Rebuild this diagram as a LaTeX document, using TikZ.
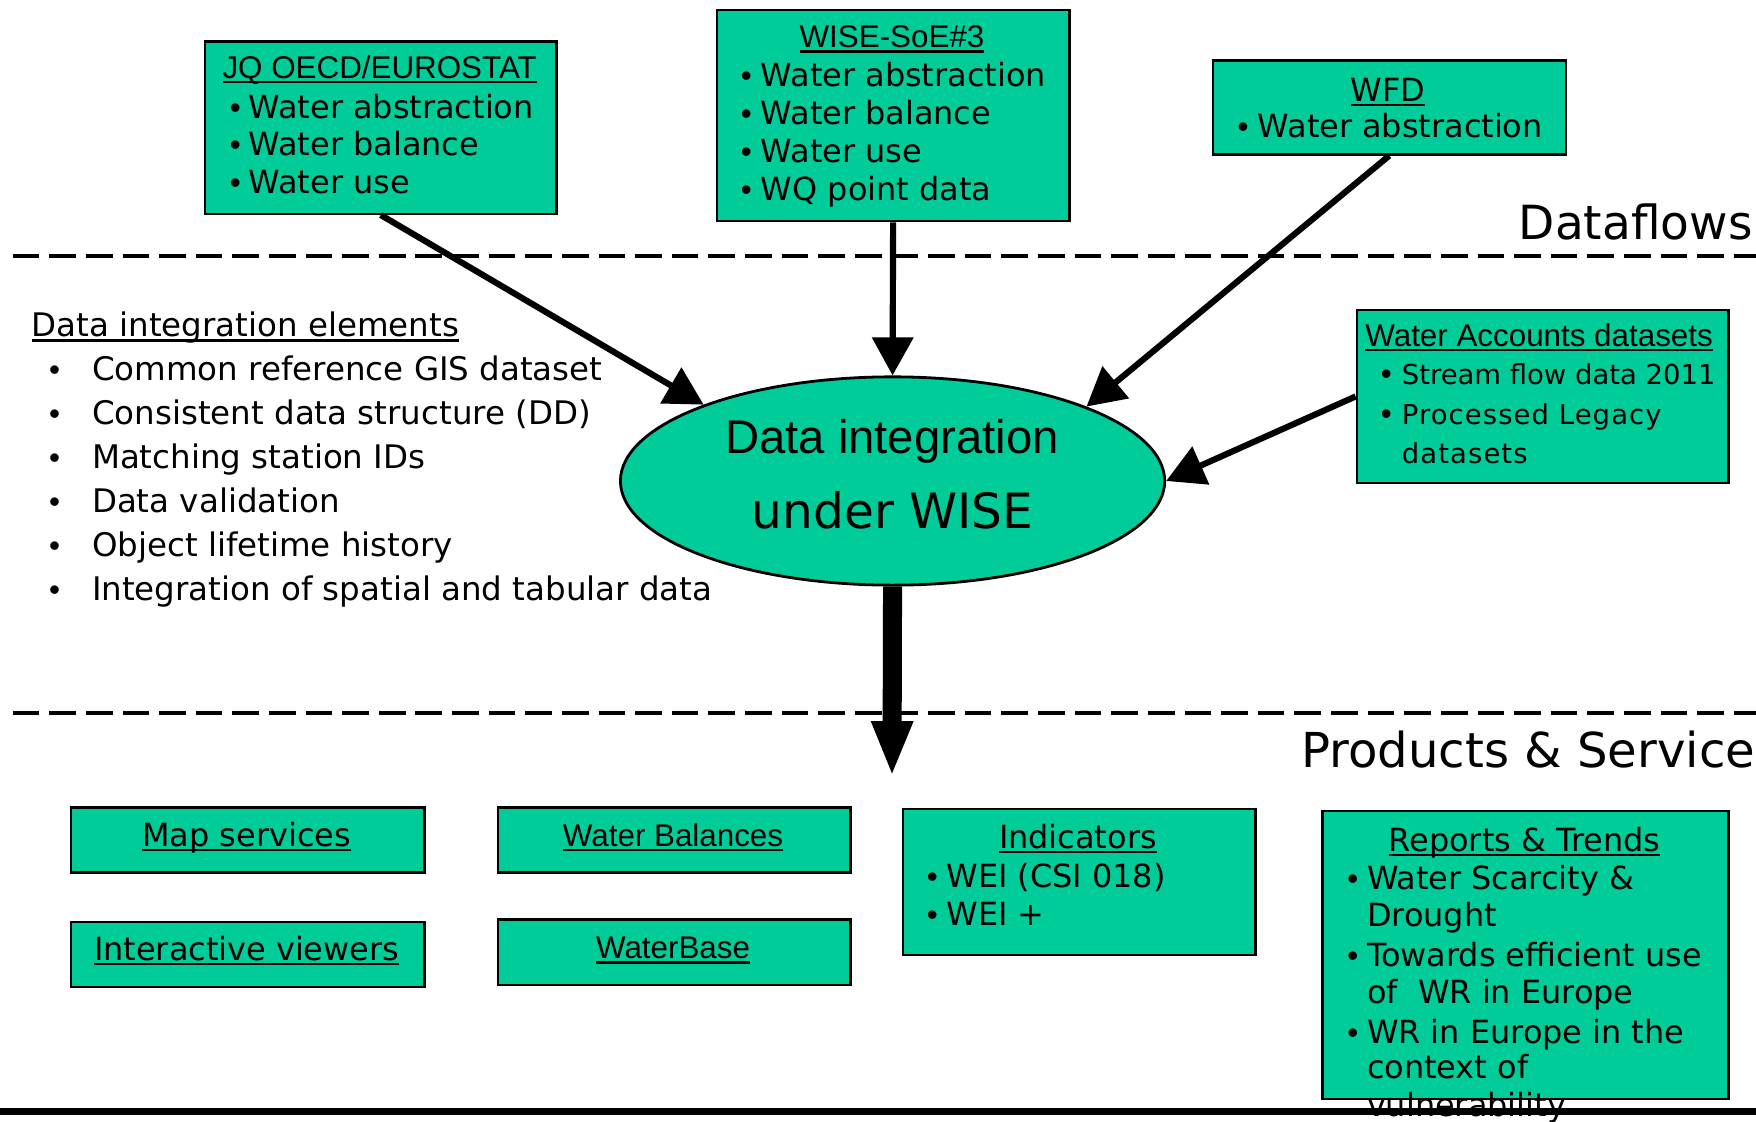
\documentclass[tikz,border=0pt]{standalone}
\usepackage{fontspec}
\setmainfont{DejaVu Sans}
\newfontfamily\arial{Liberation Sans}
\usetikzlibrary{arrows.meta,shapes.geometric}
\definecolor{boxgreen}{RGB}{0,204,153}
\newcommand\ulx[1]{\setbox0\hbox{#1}\rlap{\rule[-4.2pt]{\wd0}{2pt}}\box0}
\newcommand\fs[1]{\fontsize{#1}{#1}\selectfont}
\newcommand\bitem[5]{\node[bul] (#1b) at (#2,#4) {•}; \node[txt] (#1) at (#3,#4) {#5};}
\begin{document}
\begin{tikzpicture}[x=1pt,y=-1pt,
  box/.style={draw=black, line width=2pt, fill=boxgreen, rectangle, inner sep=0pt, anchor=north west},
  txt/.style={anchor=base west, inner sep=0pt, font=\fs{28.5}},
  ctr/.style={anchor=base, inner sep=0pt, font=\fs{28.5}},
  bul/.style={anchor=base, inner sep=0pt, font=\arial\fs{28}},
  flow/.style={line width=5.5pt, -{Triangle[length=34pt,width=36pt]}},
  sep/.style={line width=3.4pt, dash pattern=on 23.8pt off 8.9pt}]
\useasboundingbox (0,0) rectangle (1568,1001);

% separators
\draw[sep] (11.3,228.5) -- (1600,228.5);
\draw[sep] (11.3,636.8) -- (1600,636.8);

% dataflow boxes
\node[box, minimum width=314pt, minimum height=154pt] (jq) at (182,36) {};
\node[ctr, font=\arial\fs{28}] (jqt) at (339,70) {\ulx{JQ OECD/EUROSTAT}};
\bitem{jq1}{210.2}{222}{106}{Water abstraction}
\bitem{jq2}{210.2}{222}{139}{Water balance}
\bitem{jq3}{210.2}{222}{172.5}{Water use}

\node[box, minimum width=315pt, minimum height=188.5pt] (soe) at (639,8) {};
\node[ctr, font=\arial\fs{28}] (soet) at (796.5,42.7) {\ulx{WISE-SoE\#3}};
\bitem{soe1}{666.4}{679.3}{77}{Water abstraction}
\bitem{soe2}{666.4}{679.3}{111}{Water balance}
\bitem{soe3}{666.4}{679.3}{145.2}{Water use}
\bitem{soe4}{666.4}{679.3}{179.4}{WQ point data}

\node[box, minimum width=315pt, minimum height=84pt] (wfd) at (1082,53) {};
\node[ctr] (wfdt) at (1239.5,90.6) {\ulx{WFD}};
\bitem{wfd1}{1110}{1123}{123}{Water abstraction}

\node[box, minimum width=332pt, minimum height=154pt] (wa) at (1210.5,276) {};
\node[txt, font=\arial\fs{28}] (wat) at (1219,309) {\ulx{Water Accounts datasets}};
\begin{scope}[txt/.append style={font=\fs{24.5}}]
\bitem{wa1}{1238}{1251.6}{343.5}{Stream flow data 2011}
\bitem{wa2}{1238}{1251.6}{379}{\addfontfeature{LetterSpace=4}Processed Legacy}
\node[txt] (wa3) at (1251.6,413.5) {\addfontfeature{LetterSpace=4}datasets};
\end{scope}

% labels
\node[txt, font=\fs{42}] (dfl) at (1356,214) {Dataflows};
\node[txt, font=\fs{43}] (pns) at (1161.6,685.4) {Products \& Services};

% integration elements
\begin{scope}[txt/.append style={font=\fs{29}}]
\node[txt] (die) at (28,300.8) {\ulx{Data integration elements}};
\bitem{e1}{48.7}{82}{340}{Common reference GIS dataset}
\bitem{e2}{48.7}{82}{379.4}{Consistent data structure (DD)}
\bitem{e3}{48.7}{82}{418.7}{Matching station IDs}
\bitem{e4}{48.7}{82}{458}{Data validation}
\bitem{e5}{48.7}{82}{497.3}{Object lifetime history}
\bitem{e6}{48.7}{82}{536.6}{Integration of spatial and tabular data}
\end{scope}

% central ellipse
\node[draw=black, ellipse, fill=boxgreen, line width=2.5pt, minimum width=486pt, minimum height=186pt, inner sep=0pt] (wise) at (797,429.5) {};
\node[ctr, font=\arial\fs{42.2}] (wise1) at (796.5,404.8) {Data integration};
\node[ctr, font=\fs{43.4}] (wise2) at (797,471.8) {under WISE};

% arrows in
\draw[flow] (jq.south) -- (wise.158.8);
\draw[flow] (soe.south) -- (wise.north);
\draw[flow] (wfd.south) -- (wise.21.3);
\draw[flow] (wa.west) -- (wise.east);
\coordinate (out) at (796.5,693.4);
\draw[line width=17pt, -{Triangle[length=49.5pt,width=34pt]}] (wise.south) -- (out);

% products
\node[box, minimum width=315.5pt, minimum height=58pt] (map) at (62.5,720) {};
\node[ctr] (mapt) at (220.2,755.7) {\ulx{Map services}};
\node[box, minimum width=315.5pt, minimum height=58pt] (iv) at (62.5,822) {};
\node[ctr] (ivt) at (220.2,857.3) {\ulx{Interactive viewers}};
\node[box, minimum width=315pt, minimum height=58pt] (wb) at (443.5,720) {};
\node[ctr, font=\arial\fs{28}] (wbt) at (601,755.7) {\ulx{Water Balances}};
\node[box, minimum width=315pt, minimum height=58.5pt] (wbase) at (443.5,820) {};
\node[ctr, font=\arial\fs{28}] (wbaset) at (601,856.3) {\ulx{WaterBase}};

\node[box, minimum width=315pt, minimum height=130pt] (ind) at (805,721.5) {};
\node[ctr] (indt) at (962.5,757.3) {\ulx{Indicators}};
\bitem{ind1}{832.5}{845}{792.4}{WEI (CSI 018)}
\bitem{ind2}{832.5}{845}{826}{WEI +}

\node[box, minimum width=362.5pt, minimum height=256.5pt] (rep) at (1180,723.5) {};
\node[ctr] (rept) at (1361.3,760.5) {\ulx{Reports \& Trends}};
\bitem{rep1}{1208}{1220.5}{794}{Water Scarcity \&}
\node[txt] (rep1c) at (1220.5,827.6) {Drought};
\bitem{rep2}{1208}{1220.5}{862.7}{Towards efficient use}
\node[txt] (rep2c) at (1220.5,896.3) {of\ \ WR in Europe};
\bitem{rep3}{1208}{1220.5}{931.4}{WR in Europe in the}
\node[txt] (rep3c) at (1220.5,963.4) {context of};
\node[txt] (rep3d) at (1220.5,997) {vulnerability};

% bottom rule
\draw[line width=5.8pt] (-5,992.4) -- (1600,992.4);
\end{tikzpicture}
\end{document}
